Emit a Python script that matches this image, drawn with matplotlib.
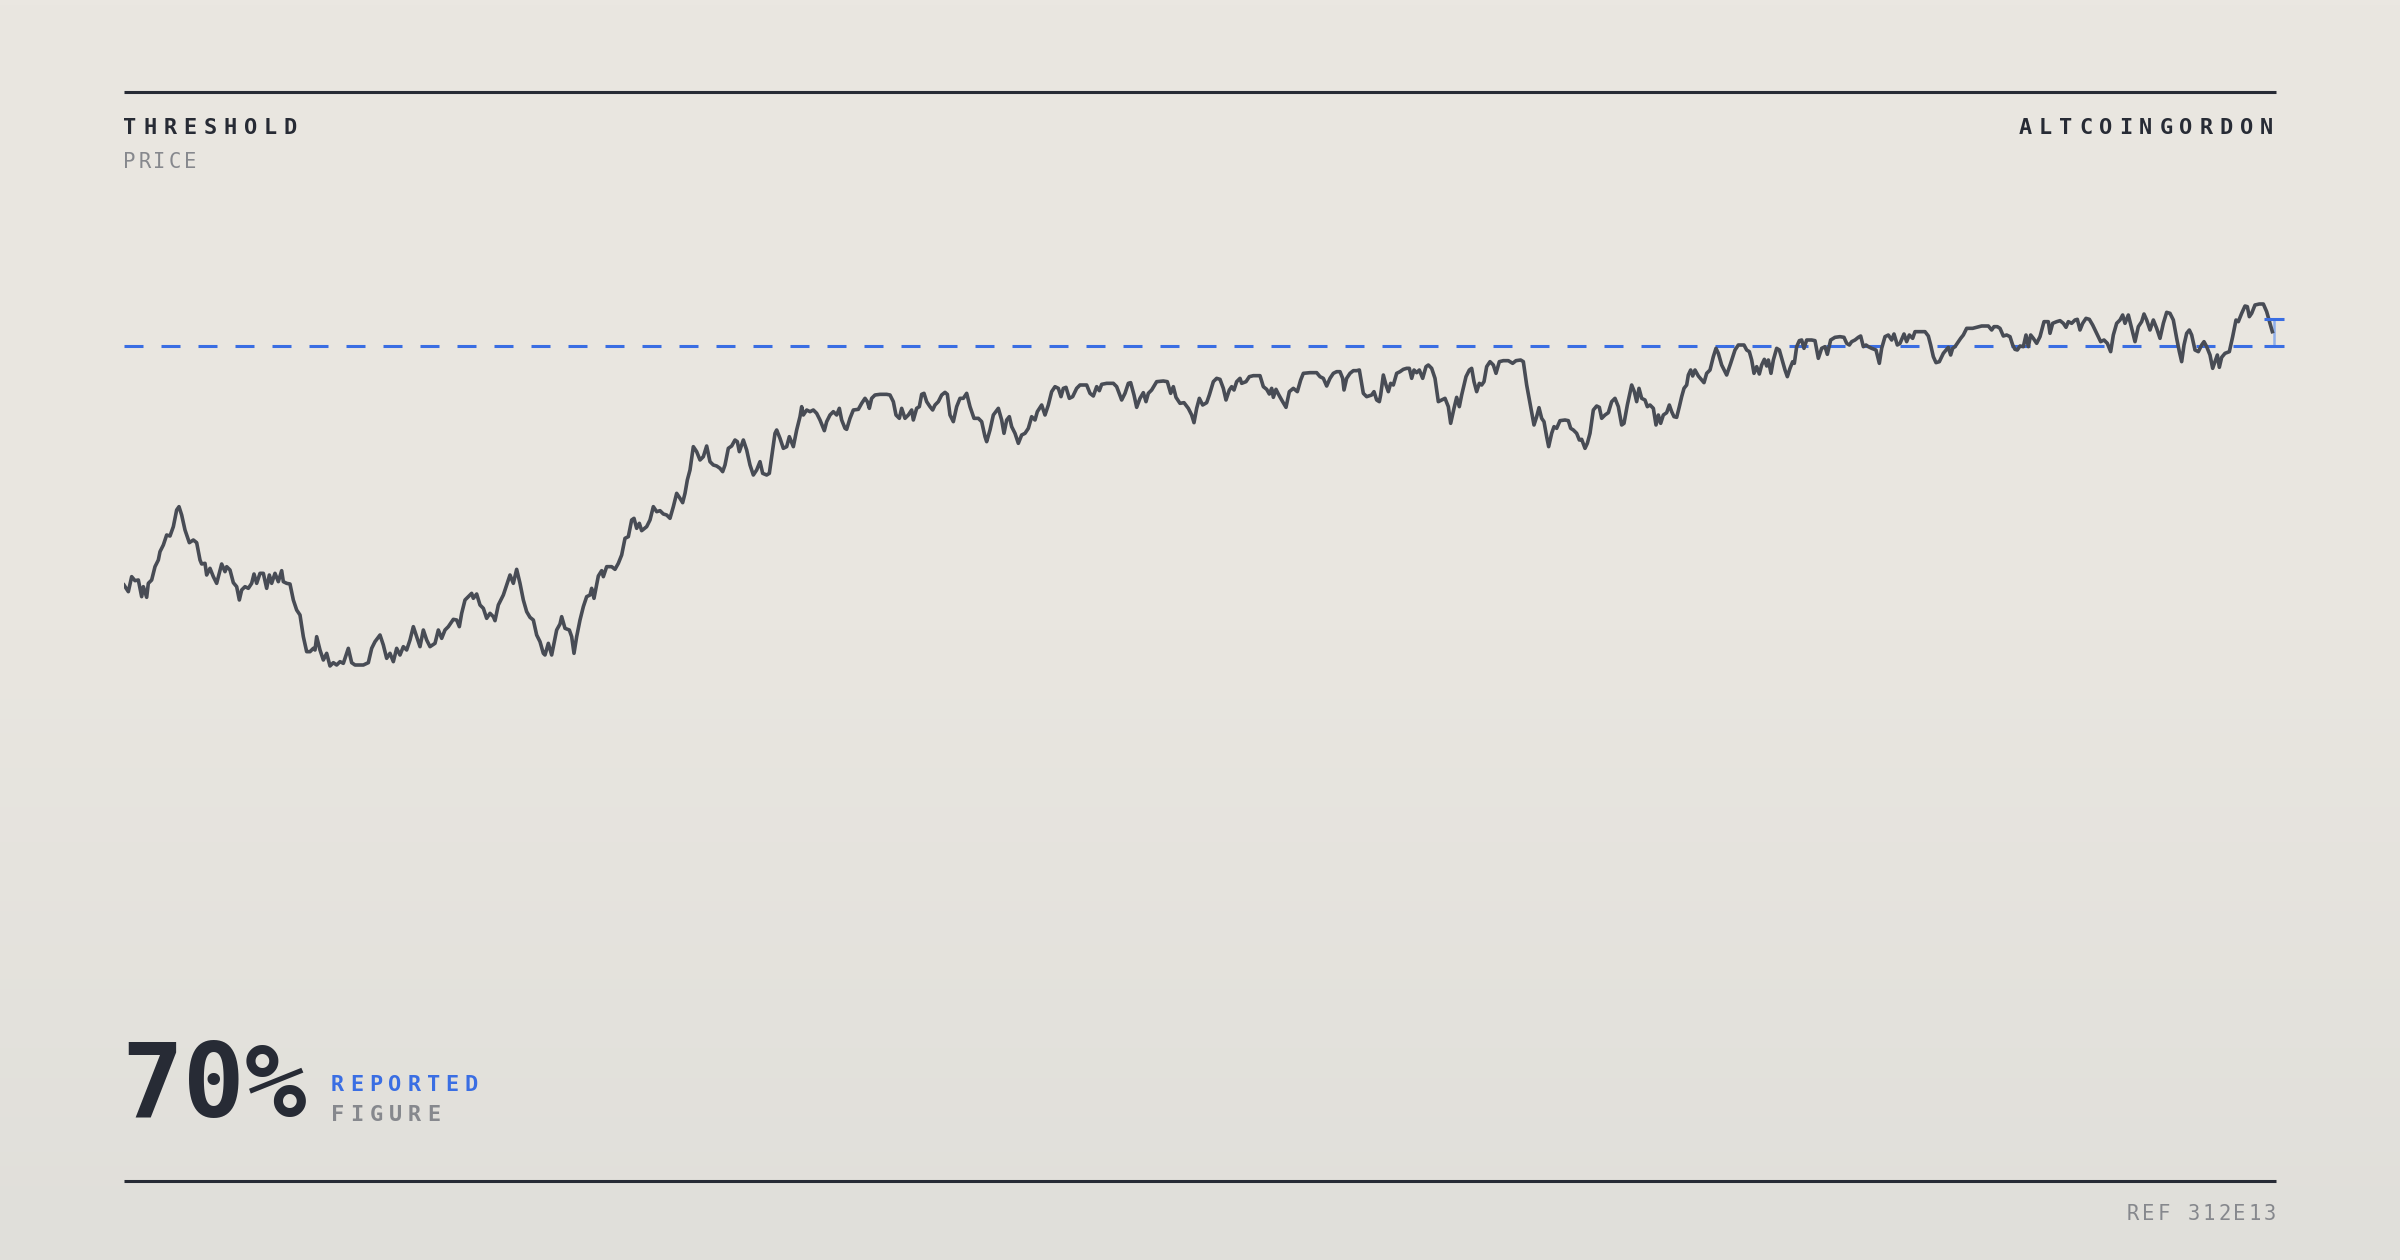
import numpy as np
import matplotlib
matplotlib.use("Agg")
import matplotlib.pyplot as plt
from matplotlib.colors import LinearSegmentedColormap

# ---------------- data ----------------
hours = [0, 13, 23, 33, 43, 53, 58, 68, 73, 83, 93, 103, 108, 118, 128, 138, 148, 158, 165, 173,
         183, 196, 208, 218, 228, 233, 243, 248, 258, 268, 278, 293, 303, 308, 318, 328, 338, 346, 353, 363,
         373, 383, 390, 398, 408, 418, 428, 436, 443, 453, 463, 473, 478, 488, 498, 508, 518, 528, 538, 548,
         558, 568, 573, 578, 588, 598, 608, 618, 628, 638, 648, 658, 673, 683, 693, 708, 718, 733, 743, 753,
         768, 778, 788, 798, 808, 818, 828, 838, 848, 858, 868, 878, 888, 898, 908, 918, 933, 943, 953, 963,
         973, 988, 998, 1006, 1013, 1023, 1033, 1043, 1048, 1058, 1068, 1078, 1088, 1098, 1108, 1113, 1123, 1138, 1148, 1158,
         1168, 1178, 1188, 1198, 1208, 1218, 1228, 1238, 1248, 1258, 1263, 1273, 1283, 1298, 1308, 1313, 1323, 1336, 1343, 1350,
         1358, 1368, 1378, 1388, 1398, 1403, 1410, 1423, 1433, 1438, 1448,
         1463, 1473, 1483, 1493, 1503, 1513, 1523, 1530, 1538, 1546, 1553, 1568, 1578, 1588, 1598, 1608, 1618, 1628, 1638, 1648,
         1658, 1668, 1676, 1683, 1690, 1698, 1708, 1718, 1728, 1738, 1748, 1758, 1768, 1778, 1788, 1796, 1803, 1813, 1823, 1833,
         1840, 1846, 1858, 1868, 1878, 1888, 1898, 1908, 1916, 1928, 1936, 1943, 1953, 1958, 1968, 1978, 1988, 1996, 2008, 2018,
         2028, 2033, 2038, 2048, 2058, 2068, 2078, 2088, 2101, 2108, 2118, 2128, 2138, 2146, 2153, 2163, 2168, 2178, 2188, 2203,
         2213, 2223, 2230, 2236, 2243, 2253, 2268, 2288, 2298, 2308, 2316, 2326, 2333, 2343, 2353, 2363, 2368, 2378, 2386, 2393,
         2400, 2408, 2418, 2426, 2433, 2443, 2453, 2463, 2470, 2478, 2488, 2498, 2508, 2518, 2528, 2538, 2550, 2563, 2573, 2583,
         2588, 2598, 2608, 2623, 2633, 2640, 2648, 2656, 2663, 2673, 2683, 2693, 2703, 2713, 2723, 2733, 2740, 2753, 2763, 2773,
         2783, 2793, 2803, 2811, 2818, 2826, 2836, 2846, 2858,
         2868, 2888, 2898, 2908, 2918, 2926, 2933, 2948, 2968, 2978, 2993, 3003, 3013, 3020, 3030, 3038, 3048, 3058, 3066, 3073,
         3083, 3098, 3118, 3130, 3140, 3148, 3156, 3168, 3180, 3193, 3203, 3210, 3218, 3226, 3236, 3248, 3256, 3268, 3278, 3288,
         3298, 3306, 3316, 3323, 3330, 3338, 3348, 3353, 3366, 3376, 3388, 3408, 3418, 3428, 3436, 3443, 3448, 3456, 3463, 3473,
         3486, 3496, 3508, 3520, 3530, 3538, 3558, 3578, 3588, 3598, 3608, 3618, 3628, 3638, 3648, 3656, 3660, 3668, 3678, 3688,
         3698, 3706, 3718, 3728, 3743, 3750, 3758, 3766, 3770, 3778, 3786, 3793, 3800, 3808, 3818, 3828, 3838, 3848, 3856, 3863,
         3870, 3878, 3886, 3896, 3906, 3913, 3923, 3933, 3943, 3953, 3963, 3973, 3980, 3990, 3998, 4006, 4013, 4026, 4036, 4043,
         4050, 4058, 4066, 4073, 4080, 4088, 4098, 4108, 4116, 4126, 4138, 4153, 4166, 4176, 4190, 4198, 4208, 4218, 4230, 4238,
         4245, 4253, 4260, 4268, 4274, 4283, 4290, 4298,
         4308, 4323, 4333, 4340, 4348, 4358, 4366, 4373, 4383, 4390, 4398, 4408, 4418, 4426, 4433, 4443, 4453, 4463, 4473, 4483,
         4493, 4500, 4510, 4523, 4531, 4538, 4545, 4553, 4563, 4570, 4578, 4588, 4596, 4603, 4610, 4618, 4628, 4636, 4643, 4650,
         4658, 4666, 4673, 4680, 4688, 4693, 4700, 4706, 4713, 4723, 4733, 4740, 4748, 4758, 4768, 4776, 4783, 4793, 4808, 4820,
         4833, 4843, 4860, 4868, 4876, 4883, 4890, 4898, 4906, 4913, 4921, 4928, 4933, 4941, 4948, 4958, 4966, 4973, 4983, 4990,
         4998, 5006, 5011, 5018, 5026, 5033, 5040, 5048, 5063, 5073, 5083, 5093, 5103, 5110, 5120, 5133, 5148, 5160, 5168, 5176,
         5183, 5193, 5203, 5210, 5218, 5226, 5233, 5243, 5256, 5266, 5273, 5283, 5293, 5303, 5310, 5320, 5328, 5340, 5348, 5356,
         5366, 5373, 5388, 5403, 5413, 5420, 5428, 5436, 5446, 5458, 5473, 5480, 5486, 5493, 5503, 5510, 5518, 5528, 5546, 5558,
         5573, 5593, 5603, 5610, 5620, 5628, 5638, 5648, 5658, 5666, 5673, 5680, 5688, 5698, 5706, 5713, 5720, 5728, 5738,
         5748, 5760, 5773, 5778, 5786, 5798, 5808, 5818, 5826, 5833, 5843, 5853, 5860, 5868, 5876, 5886, 5896, 5906, 5918, 5930,
         5940, 5950, 5960, 5968, 5978, 5988, 5996, 6003, 6013, 6023, 6033, 6043, 6053, 6060, 6068, 6078, 6088, 6098, 6108, 6118,
         6128, 6138, 6148, 6158, 6166, 6173, 6180, 6188, 6196, 6203, 6213, 6223, 6233, 6240, 6248, 6258, 6266, 6273, 6280, 6286,
         6293, 6303, 6316, 6326, 6336, 6343, 6353, 6363, 6370, 6376, 6383, 6393, 6406, 6418, 6428, 6438, 6445]

price = [64.5, 62.5, 67.0, 65.8, 66.0, 61.0, 64.0, 60.8, 65.0, 66.0, 70.0, 72.0, 74.5, 76.5, 79.5, 79.2, 82.0, 87.0, 88.0, 85.5,
         81.0, 77.2, 78.0, 77.2, 72.0, 70.8, 71.0, 67.5, 69.5, 67.0, 65.0, 70.8, 68.5, 70.0, 69.0, 65.2, 64.0, 60.0, 63.0, 64.0,
         63.5, 65.0, 67.8, 65.0, 68.0, 68.0, 63.5, 67.5, 65.0, 68.0, 65.5, 68.8, 65.5, 65.0, 64.8, 60.0, 57.0, 55.5, 49.0, 44.5,
         44.5, 45.5, 45.0, 49.0, 45.0, 42.0, 44.0, 40.2, 41.2, 40.5, 41.5, 41.0, 45.5, 41.2, 40.5, 40.5, 40.5, 41.2, 45.5, 47.5,
         49.5, 46.5, 42.5, 44.0, 41.5, 45.5, 43.5, 46.0, 45.0, 48.0, 52.0, 49.0, 46.0, 51.0, 48.0, 46.0, 47.0, 51.0, 48.5, 51.0,
         52.0, 54.2, 54.0, 52.0, 56.0, 60.0, 61.0, 62.0, 60.5, 61.8, 58.5, 57.5, 54.5, 56.0, 55.0, 53.8, 58.5, 61.5, 64.5, 67.5,
         65.0, 69.2, 65.0, 60.0, 56.5, 54.8, 54.0, 49.5, 47.5, 44.0, 43.5, 47.0, 43.5, 51.0, 52.8, 55.0, 51.5, 51.0, 49.0, 44.0,
         49.0, 54.0, 58.0, 61.0, 61.5, 63.5, 60.5, 67.2, 68.8, 67.0, 70.0,
         70.0, 69.2, 71.0, 73.5, 78.5, 79.0, 84.0, 84.5, 81.5, 83.0, 80.8, 82.0, 84.0, 88.0, 86.5, 86.8, 85.8, 85.5, 84.5, 88.0,
         92.0, 90.5, 89.2, 92.0, 96.0, 99.0, 106.0, 104.5, 102.0, 103.0, 106.2, 101.5, 100.5, 100.2, 99.5, 98.5, 100.5, 105.5, 106.2, 108.0,
         107.5, 104.5, 108.0, 105.0, 100.5, 97.5, 99.0, 101.5, 98.0, 97.5, 98.0, 103.0, 110.0, 111.0, 108.5, 105.5, 106.0, 109.0, 106.0, 111.0,
         115.0, 118.0, 115.5, 117.0, 116.5, 117.0, 116.0, 114.0, 110.8, 113.5, 115.5, 116.5, 115.5, 117.5, 114.0, 111.5, 111.2, 114.5, 117.0, 117.2,
         119.0, 120.5, 119.5, 117.5, 120.5, 121.5, 121.7, 121.7, 121.5, 119.5, 115.5, 114.5, 117.5, 114.5, 115.5, 117.0, 114.0, 117.5, 118.0, 121.7,
         122.0, 119.5, 118.0, 117.0, 118.5, 119.5, 121.5, 122.3, 121.7, 115.5, 113.5, 118.0, 120.5, 120.5, 122.0, 118.0, 114.5, 114.5, 113.5, 109.0,
         107.5, 111.0, 115.5, 117.5, 114.0, 110.0, 114.0, 115.0, 112.0, 110.0, 107.0, 109.5, 110.0, 111.5, 115.0, 114.0, 116.5, 118.5, 115.5, 118.5,
         122.5, 124.0, 123.5, 121.0, 123.5, 123.8, 120.5, 121.0, 123.5,
         124.5, 124.5, 122.0, 121.2, 124.0, 122.8, 124.7, 125.0, 125.0, 124.0, 120.0, 122.0, 125.0, 125.2, 121.5, 117.8, 120.5, 122.2, 119.5, 122.0,
         123.0, 125.5, 125.7, 125.5, 122.0, 124.0, 120.8, 119.0, 119.2, 117.5, 115.5, 113.2, 117.5, 120.5, 118.5, 119.2, 121.5, 125.5, 126.5, 126.2,
         123.5, 120.0, 123.0, 124.0, 123.0, 125.5, 126.5, 125.0, 125.5, 127.0, 127.3, 127.3, 124.0, 123.2, 121.8, 123.5, 120.8, 123.2, 121.8, 120.0,
         117.8, 122.5, 123.5, 122.5, 126.0, 128.0, 128.2, 128.2, 127.0, 126.5, 124.2, 126.5, 128.0, 128.5, 128.5, 126.5, 123.0, 126.5, 128.0, 128.8,
         128.8, 129.0, 122.0, 121.0, 121.5, 122.5, 120.0, 119.5, 121.5, 127.5, 124.5, 122.5, 125.0, 124.5, 128.0, 128.5, 129.2, 129.5, 129.5, 126.5,
         129.0, 128.2, 129.0, 126.5, 130.0, 130.5, 129.5, 126.5, 119.5, 120.0, 120.5, 118.0, 113.0, 117.5, 120.8, 118.0, 121.5, 127.0, 129.0, 129.5,
         125.5, 122.5, 125.0, 124.5, 125.5, 130.0, 131.5, 130.5, 128.0, 131.5, 131.8, 131.8, 131.0, 131.8, 132.0, 131.5, 124.5, 119.0, 112.5, 115.0,
         117.7, 114.5, 113.5, 109.0, 106.0, 110.0, 112.0, 111.5,
         113.8, 114.0, 113.8, 111.5, 111.0, 110.0, 108.0, 108.2, 105.5, 107.0, 110.0, 117.0, 118.2, 117.8, 114.5, 115.5, 116.2, 119.5, 120.5, 118.0,
         112.5, 113.0, 118.5, 124.5, 122.5, 119.5, 123.5, 120.5, 120.0, 118.0, 118.5, 117.5, 112.5, 115.5, 113.0, 115.5, 116.2, 118.5, 116.5, 115.0,
         114.8, 118.0, 121.0, 123.5, 124.5, 127.5, 129.0, 127.2, 129.0, 127.2, 126.0, 125.2, 128.0, 129.0, 133.0, 135.5, 134.0, 130.5, 127.5, 131.0,
         135.0, 136.5, 136.5, 135.0, 134.5, 132.0, 128.0, 130.0, 127.8, 130.5, 132.2, 130.2, 132.0, 128.0, 132.0, 135.5, 135.0, 132.5, 129.0, 127.0,
         129.5, 131.5, 131.0, 136.0, 137.8, 138.0, 135.5, 138.0, 138.0, 137.8, 132.5, 135.5, 136.0, 133.7, 138.0, 138.8, 139.0, 138.8, 137.0, 136.5,
         137.5, 138.0, 138.8, 139.2, 136.0, 136.5, 136.0, 135.5, 135.0, 131.0, 135.5, 139.0, 139.5, 138.0, 139.8, 136.5, 137.0, 139.8, 137.5, 139.5,
         138.5, 140.5, 140.5, 140.5, 139.2, 136.5, 133.0, 131.2, 131.5, 134.0, 135.8, 133.5, 135.5, 136.0, 137.5, 138.5, 139.5, 141.5, 141.5, 141.8,
         142.2, 142.2, 141.0, 142.0, 142.0, 141.5, 139.2, 139.5, 139.0, 136.5, 135.2, 135.0, 136.2, 136.0, 139.5, 136.0, 139.5, 138.5, 137.0,
         139.0, 143.5, 143.5, 140.0, 143.0, 143.5, 143.8, 143.0, 141.8, 143.5, 143.0, 144.0, 144.2, 141.0, 143.0, 144.5, 144.2, 142.5, 140.0, 137.5,
         138.0, 137.0, 134.5, 139.5, 143.0, 144.0, 145.5, 143.0, 145.5, 141.5, 137.5, 142.0, 143.5, 145.8, 144.0, 141.0, 144.0, 141.5, 138.5, 143.0,
         146.3, 146.0, 144.0, 138.5, 134.5, 131.5, 136.5, 140.0, 141.0, 139.5, 135.0, 134.5, 136.5, 137.5, 136.0, 133.5, 129.5, 131.5, 133.5, 129.8,
         132.8, 134.0, 134.5, 139.0, 144.0, 143.5, 146.0, 148.2, 148.0, 145.0, 146.0, 148.5, 148.8, 148.8, 146.5, 143.0, 140.5]

threshold = 136.2
reported_level = 144.4

headline = "70%"
title_left = "THRESHOLD"
subtitle_left = "PRICE"
title_right = "ALTCOINGORDON"
label_top = "REPORTED"
label_bottom = "FIGURE"
ref_text = "REF 312E13"

# ---------------- styling ----------------
W, H, DPI = 2400, 1260, 200
INK = "#272b35"
LINE = "#484c55"
BLUE = "#3a6ee3"
LIGHTBLUE = "#8eaeea"
GREY = "#86888d"
FONT = "DejaVu Sans Mono"

plt.rcParams["lines.scale_dashes"] = False

fig = plt.figure(figsize=(W / DPI, H / DPI), dpi=DPI)

# background gradient
bg = fig.add_axes([0, 0, 1, 1], zorder=0)
cmap = LinearSegmentedColormap.from_list("bg", ["#eae7e1", "#e9e6e0", "#e0dfda"])
bg.imshow(np.linspace(0, 1, 256).reshape(-1, 1), aspect="auto", cmap=cmap,
          extent=[0, 1, 0, 1], origin="upper")
bg.set_axis_off()

def px(x, y):
    return x / W, 1 - y / H

# rules
for yy in (92, 1181):
    fig.add_artist(plt.Line2D([124 / W, 2276 / W], [1 - yy / H] * 2, color=INK, lw=1.1,
                              solid_capstyle="butt", zorder=2))

# chart axes: spans x 124..2276 px, full height
L, R = 124, 2276
ax = fig.add_axes([L / W, 0, (R - L) / W, 1], zorder=3)
ax.set_xlim(0, (R - L) * 3)
ax.set_ylim(-138, 240)
ax.set_axis_off()
ax.patch.set_alpha(0)

t = np.array(hours)
p = np.array(price)
ax.plot([t[0], t[-1]], [threshold, threshold], color=BLUE, lw=1.1,
        dashes=(6.84, 6.48), dash_capstyle="butt", zorder=2)
ax.plot(t, p, color=LINE, lw=1.3, solid_joinstyle="round", zorder=3)

# bracket between threshold and reported level at the last point
xc = t[-1] + 6
half = 30
ax.plot([xc, xc], [threshold, reported_level], color=LIGHTBLUE, lw=0.9, zorder=2, clip_on=False)
for lvl in (threshold, reported_level):
    ax.plot([xc - half, xc + half], [lvl, lvl], color=BLUE, lw=1.1, zorder=4,
            solid_capstyle="butt", clip_on=False)

# spaced text helper
def spaced(s, x, y, pitch, size, color, weight="normal", align="left"):
    adv = 0.602 * size * DPI / 72
    if align == "right":
        x = x - ((len(s) - 1) * pitch + adv)
    for i, ch in enumerate(s):
        fx, fy = px(x + i * pitch, y)
        fig.text(fx, fy, ch, fontsize=size, color=color, fontweight=weight,
                 family=FONT, ha="left", va="baseline", zorder=5)

spaced(title_left, 123, 134, 20.1, 7.9, INK, "bold")
spaced(subtitle_left, 123, 168, 15.2, 7.4, GREY)
spaced(title_right, 2273, 134, 20.1, 7.9, INK, "bold", align="right")
spaced(label_top, 331, 1091, 19.1, 7.9, BLUE, "bold")
spaced(label_bottom, 331, 1121, 19.2, 7.9, GREY, "bold")
spaced(ref_text, 2276, 1220, 15.2, 7.4, GREY, align="right")

fx, fy = px(121, 1117)
fig.text(fx, fy, headline, fontsize=37, color=INK, fontweight="bold", family=FONT,
         ha="left", va="baseline", zorder=5)

fig.savefig("out.png", dpi=DPI)
